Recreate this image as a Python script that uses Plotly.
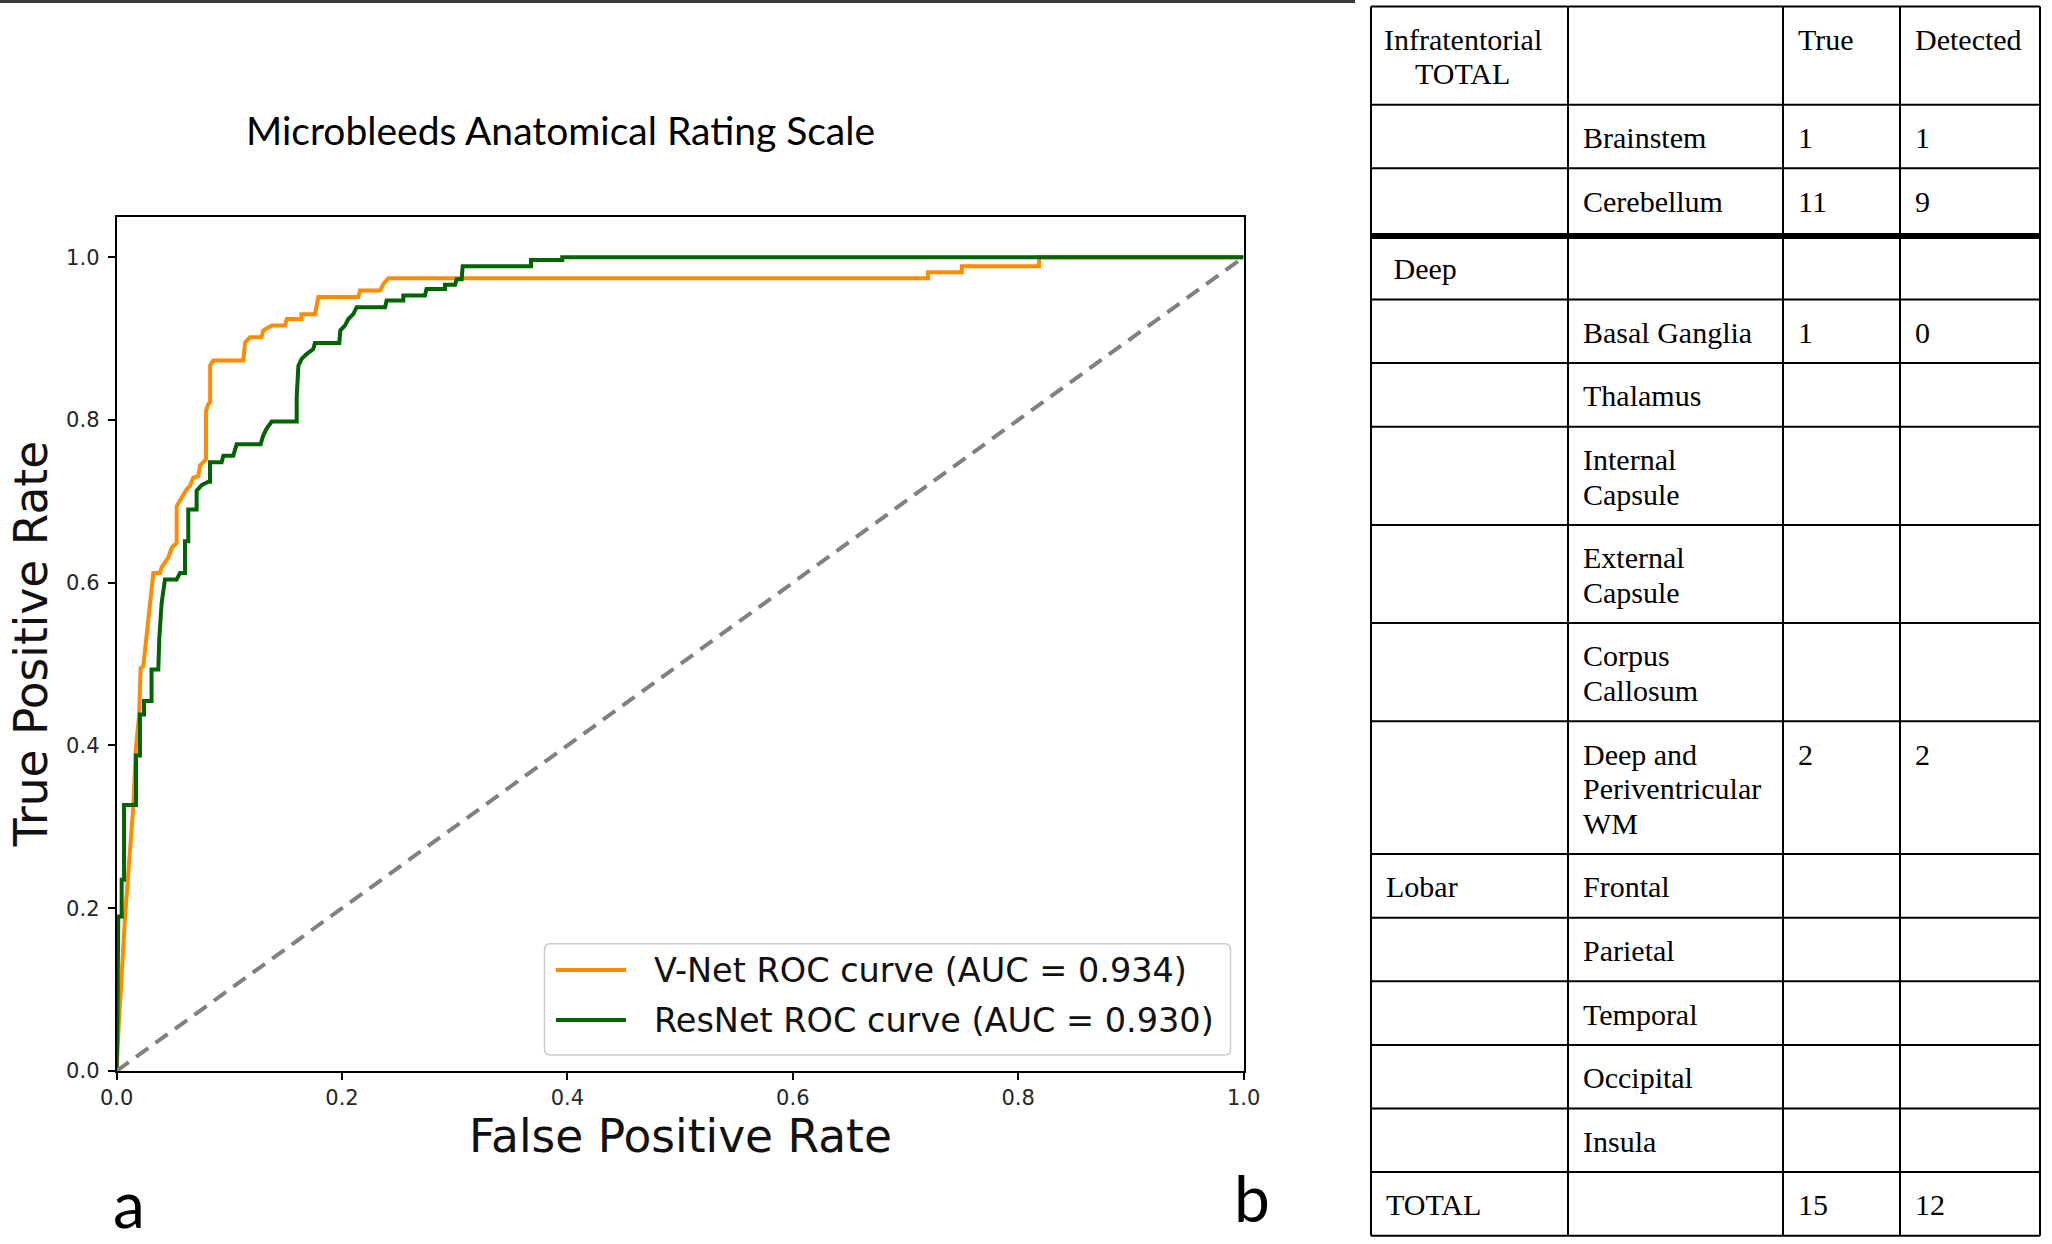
import plotly.graph_objects as go

W, H = 2052, 1244

# ---------------- ROC data ----------------
vnet_fpr = [0.0, 0.0015, 0.0075, 0.0148, 0.017, 0.020, 0.0213, 0.0237, 0.0326, 0.0385,
            0.040, 0.0459, 0.0489, 0.0533, 0.0533, 0.0563, 0.0592, 0.0622, 0.0651, 0.068,
            0.0725, 0.074, 0.077, 0.0793, 0.0793, 0.0814, 0.083, 0.083, 0.0858, 0.1124,
            0.114, 0.1183, 0.1287, 0.130, 0.1376, 0.1494, 0.151, 0.164, 0.164, 0.176,
            0.179, 0.2145, 0.216, 0.2337, 0.2367, 0.241, 0.72, 0.72, 0.75, 0.75,
            0.8185, 0.8185, 1.0]
vnet_tpr = [0.0, 0.046, 0.19, 0.325, 0.395, 0.438, 0.495, 0.498, 0.612, 0.612,
            0.619, 0.631, 0.643, 0.649, 0.694, 0.701, 0.709, 0.715, 0.719, 0.729,
            0.731, 0.744, 0.748, 0.752, 0.811, 0.8195, 0.822, 0.867, 0.873, 0.873,
            0.895, 0.9015, 0.9015, 0.910, 0.916, 0.916, 0.924, 0.924, 0.930, 0.930,
            0.951, 0.951, 0.959, 0.959, 0.967, 0.974, 0.974, 0.9815, 0.9815, 0.989,
            0.989, 1.0, 1.0]

resnet_fpr = [0.0, 0.0006, 0.0015, 0.0045, 0.0045, 0.0066, 0.0066, 0.0172, 0.0172, 0.0207,
              0.0207, 0.0243, 0.0243, 0.031, 0.031, 0.0370, 0.0379, 0.040, 0.0429, 0.0533,
              0.0563, 0.0607, 0.0607, 0.0636, 0.0636, 0.071, 0.071, 0.0755, 0.0814, 0.0829,
              0.0829, 0.0932, 0.0947, 0.1035, 0.1065, 0.1278, 0.130, 0.133, 0.1376, 0.1598,
              0.1598, 0.1613, 0.1642, 0.1686, 0.1745, 0.176, 0.1976, 0.1985, 0.2026, 0.2056,
              0.210, 0.213, 0.2382, 0.2396, 0.2544, 0.2544, 0.2736, 0.275, 0.2914, 0.2914,
              0.3003, 0.3018, 0.3062, 0.3071, 0.3677, 0.3677, 0.3954, 0.3954, 1.0]
resnet_tpr = [0.0, 0.046, 0.19, 0.19, 0.235, 0.235, 0.327, 0.327, 0.3876, 0.3876,
              0.438, 0.438, 0.4545, 0.4545, 0.4934, 0.4934, 0.532, 0.5755, 0.604, 0.604,
              0.612, 0.612, 0.651, 0.651, 0.690, 0.690, 0.713, 0.720, 0.724, 0.724,
              0.748, 0.748, 0.756, 0.756, 0.770, 0.770, 0.7806, 0.789, 0.798, 0.798,
              0.828, 0.8667, 0.875, 0.881, 0.887, 0.8946, 0.8946, 0.910, 0.916, 0.924,
              0.930, 0.9385, 0.9385, 0.9467, 0.9467, 0.953, 0.953, 0.961, 0.961, 0.966,
              0.966, 0.973, 0.973, 0.989, 0.989, 0.9967, 0.9967, 1.0, 1.0]

chance_x = [0.0, 1.0]
chance_y = [0.0, 1.0]

vnet_label = "V-Net ROC curve (AUC = 0.934)"
resnet_label = "ResNet ROC curve (AUC = 0.930)"
axis_ticks = [0.0, 0.2, 0.4, 0.6, 0.8, 1.0]
chart_title = "Microbleeds Anatomical Rating Scale"
x_title = "False Positive Rate"
y_title = "True Positive Rate"

# ---------------- Table data ----------------
header = ["Infratentorial<br>TOTAL", "", "True", "Detected"]
regions = ["", "", "\u00a0Deep", "", "", "", "", "", "", "Lobar", "", "", "", "", "TOTAL"]
subregions = ["Brainstem", "Cerebellum", "", "Basal Ganglia", "Thalamus",
              "Internal<br>Capsule", "External<br>Capsule", "Corpus<br>Callosum",
              "Deep and<br>Periventricular<br>WM", "Frontal", "Parietal", "Temporal",
              "Occipital", "Insula", ""]
true_counts = ["1", "11", "", "1", "", "", "", "", "2", "", "", "", "", "", "15"]
detected_counts = ["1", "9", "", "0", "", "", "", "", "2", "", "", "", "", "", "12"]

# ---------------- styles / geometry ----------------
ORANGE = "#ff8c00"
GREEN = "#006400"
GRAY = "#808080"
SANS = "DejaVu Sans"
SERIF = "Liberation Serif"

def px(x):
    return x / W

def py(y):
    return 1 - y / H

PLOT_L, PLOT_R, PLOT_T, PLOT_B = 116.6, 1243.6, 216.5, 1071.0

TBL_LEFT = 1371.0
COL_W = [197.0, 215.0, 117.0, 140.0]
TBL_TOP = 6.5
ROW_PAD = 29.0
LINE_H = 34.6
FIRST_LINE = 32.7
TEXT_PAD = 12.5
HEADER_BLOCK_W = 158.0   # width of the centred two-line header block
THICK_AFTER = 3          # boundary index with the heavy rule
THICK_EXTRA = 4.0
TABLE_FONT = dict(family=SERIF, size=30, color="black")

fig = go.Figure()

# ROC traces
fig.add_trace(go.Scatter(x=vnet_fpr, y=vnet_tpr, mode="lines", name=vnet_label,
                         line=dict(color=ORANGE, width=4), showlegend=False))
fig.add_trace(go.Scatter(x=resnet_fpr, y=resnet_tpr, mode="lines", name=resnet_label,
                         line=dict(color=GREEN, width=4), showlegend=False))
fig.add_trace(go.Scatter(x=chance_x, y=chance_y, mode="lines",
                         line=dict(color=GRAY, width=4, dash="15px,9px"), showlegend=False))

# ---------------- Table ----------------
rows = [header] + [[r, s, t, d] for r, s, t, d in zip(regions, subregions, true_counts, detected_counts)]
col_x = [TBL_LEFT]
for w in COL_W:
    col_x.append(col_x[-1] + w)

row_y = [TBL_TOP]
for i, row in enumerate(rows):
    n = max(c.count("<br>") + 1 for c in row)
    h = ROW_PAD + n * LINE_H
    if i + 1 == THICK_AFTER:
        h += THICK_EXTRA
    row_y.append(row_y[-1] + h)

gx, gy = [], []
for j, yb in enumerate(row_y):
    if j == THICK_AFTER:
        continue
    gx += [col_x[0], col_x[-1], None]
    gy += [yb, yb, None]
for xb in col_x:
    gx += [xb, xb, None]
    gy += [row_y[0], row_y[-1], None]
fig.add_trace(go.Scatter(x=gx, y=gy, mode="lines", line=dict(color="black", width=2),
                         xaxis="x2", yaxis="y2", showlegend=False, hoverinfo="skip"))
fig.add_trace(go.Scatter(x=[col_x[0], col_x[-1]], y=[row_y[THICK_AFTER]] * 2, mode="lines",
                         line=dict(color="black", width=6),
                         xaxis="x2", yaxis="y2", showlegend=False, hoverinfo="skip"))

annotations = []
for i, row in enumerate(rows):
    top = row_y[i]
    for c, cell in enumerate(row):
        if not cell:
            continue
        centred = (i == 0 and c == 0)
        for k, line in enumerate(cell.split("<br>")):
            if centred:
                xx, anchor = col_x[c] + TEXT_PAD + HEADER_BLOCK_W / 2, "center"
            else:
                xx, anchor = col_x[c] + TEXT_PAD, "left"
            annotations.append(dict(text=line, x=xx, y=top + FIRST_LINE + k * LINE_H,
                                    xref="x2", yref="y2", xanchor=anchor, yanchor="middle",
                                    showarrow=False, font=TABLE_FONT))

# ---------------- chart texts ----------------
annotations.append(dict(text=chart_title, x=px(560), y=py(129.6), xref="paper", yref="paper",
                        xanchor="center", yanchor="middle", showarrow=False,
                        font=dict(family="Lato", size=39, color="black")))
annotations.append(dict(text=x_title, x=px((PLOT_L + PLOT_R) / 2), y=py(1136), xref="paper", yref="paper",
                        xanchor="center", yanchor="middle", showarrow=False,
                        font=dict(family=SANS, size=45.5, color="#111111")))
annotations.append(dict(text=y_title, x=px(31.4), y=py((PLOT_T + PLOT_B) / 2), xref="paper", yref="paper",
                        xanchor="center", yanchor="middle", showarrow=False, textangle=-90,
                        font=dict(family=SANS, size=45.5, color="#111111")))
annotations.append(dict(text="a", x=px(129), y=0, xref="paper", yref="paper",
                        xanchor="center", yanchor="bottom", showarrow=False,
                        font=dict(family="Lato", size=64, color="black")))
annotations.append(dict(text="b", x=px(1252), y=py(1197.6), xref="paper", yref="paper",
                        xanchor="center", yanchor="middle", showarrow=False,
                        font=dict(family="Lato", size=64, color="black")))

# ---------------- manual legend ----------------
LX0, LX1, LY0, LY1, R = 544.5, 1230.5, 943.8, 1055.0, 6.0
path = (f"M {px(LX0 + R)},{py(LY0)} L {px(LX1 - R)},{py(LY0)} Q {px(LX1)},{py(LY0)} {px(LX1)},{py(LY0 + R)} "
        f"L {px(LX1)},{py(LY1 - R)} Q {px(LX1)},{py(LY1)} {px(LX1 - R)},{py(LY1)} "
        f"L {px(LX0 + R)},{py(LY1)} Q {px(LX0)},{py(LY1)} {px(LX0)},{py(LY1 - R)} "
        f"L {px(LX0)},{py(LY0 + R)} Q {px(LX0)},{py(LY0)} {px(LX0 + R)},{py(LY0)} Z")
shapes = [
    dict(type="path", path=path, xref="paper", yref="paper",
         line=dict(color="#cccccc", width=1.5), fillcolor="rgba(255,255,255,0.85)", layer="above"),
    dict(type="line", x0=px(556), x1=px(626), y0=py(970), y1=py(970), xref="paper", yref="paper",
         line=dict(color=ORANGE, width=4), layer="above"),
    dict(type="line", x0=px(556), x1=px(626), y0=py(1020), y1=py(1020), xref="paper", yref="paper",
         line=dict(color=GREEN, width=4), layer="above"),
    dict(type="line", x0=0, x1=px(1355), y0=py(1.5), y1=py(1.5), xref="paper", yref="paper",
         line=dict(color="#3a3a3a", width=3)),
]
for lbl, yy in [(vnet_label, 970), (resnet_label, 1020)]:
    annotations.append(dict(text=lbl, x=px(652), y=py(yy), xref="paper", yref="paper",
                            xanchor="left", yanchor="middle", showarrow=False,
                            font=dict(family=SANS, size=33.5, color="#111111")))

axis_common = dict(showgrid=False, zeroline=False, showline=True, linecolor="black", linewidth=1.8,
                   mirror=True, ticks="outside", ticklen=7, tickwidth=1.5, tickcolor="black",
                   tickvals=axis_ticks, tickformat=".1f", automargin=False,
                   tickfont=dict(family=SANS, size=21, color="#262626"))

fig.update_layout(
    width=W, height=H,
    margin=dict(l=0, r=0, t=0, b=0, pad=0, autoexpand=False),
    paper_bgcolor="white", plot_bgcolor="rgba(0,0,0,0)",
    showlegend=False,
    xaxis=dict(domain=[px(PLOT_L), px(PLOT_R)], range=[0, 1.0], **axis_common),
    yaxis=dict(domain=[py(PLOT_B), py(PLOT_T)], range=[0, 1.05], ticklabelstandoff=4, **axis_common),
    xaxis2=dict(domain=[0, 1], range=[0, W], visible=False, anchor="y2", automargin=False),
    yaxis2=dict(domain=[0, 1], range=[H, 0], visible=False, anchor="x2", automargin=False),
    annotations=annotations,
    shapes=shapes,
)

fig.write_html("out.html",
               config={"displayModeBar": False},
               post_script="document.body.style.margin='0';document.body.style.overflow='hidden';")
